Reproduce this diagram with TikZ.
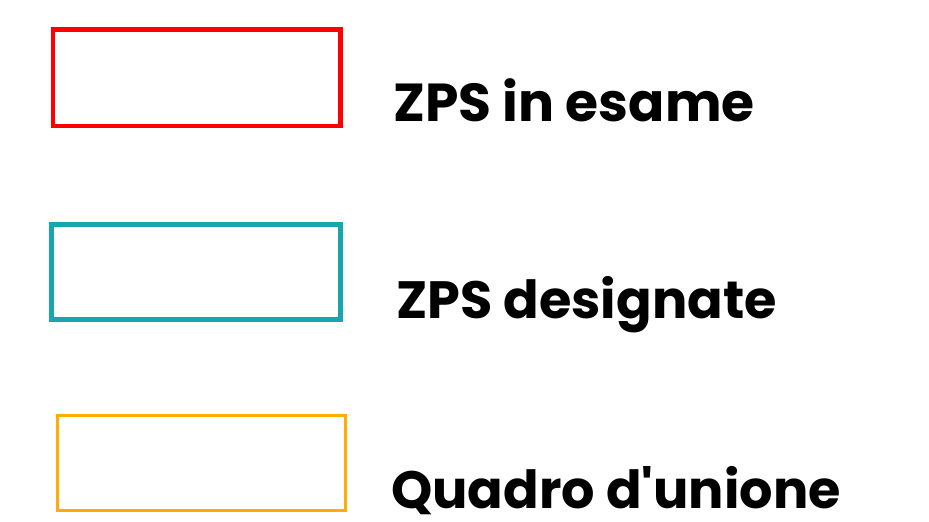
\documentclass[tikz,border=0pt]{standalone}
\usepackage{fontspec}
\setmainfont{Poppins}[Ligatures=TeXOff]
\definecolor{zpsred}{HTML}{FF0000}
\definecolor{zpsteal}{HTML}{17A6AE}
\definecolor{zpsorange}{HTML}{FFAE00}
\begin{document}
\begin{tikzpicture}[x=1pt,y=-1pt,
  legendbox/.style={draw,fill=none,inner sep=0pt},
  legendtext/.style={anchor=base west,inner sep=0pt,font=\fontsize{53.5}{54}\selectfont\bfseries}]
\useasboundingbox (0,0) rectangle (929,522);
\node[legendbox,draw=zpsred,line width=4.5pt,minimum width=287.5pt,minimum height=96.5pt] (b1) at (196.75,77.75) {};
\node[legendbox,draw=zpsteal,line width=5pt,minimum width=288.5pt,minimum height=95pt] (b2) at (195.75,272) {};
\node[legendbox,draw=zpsorange,line width=3pt,minimum width=288pt,minimum height=95pt] (b3) at (201.5,463) {};
\node[legendtext] (t1) at (393,121) {ZPS in esame};
\node[legendtext,font=\fontsize{52.5}{53}\selectfont\bfseries] (t2) at (396,318) {ZPS designate};
\node[legendtext,font=\fontsize{52.5}{53}\selectfont\bfseries] (t3) at (391,508) {Quadro d'unione};
\end{tikzpicture}
\end{document}
